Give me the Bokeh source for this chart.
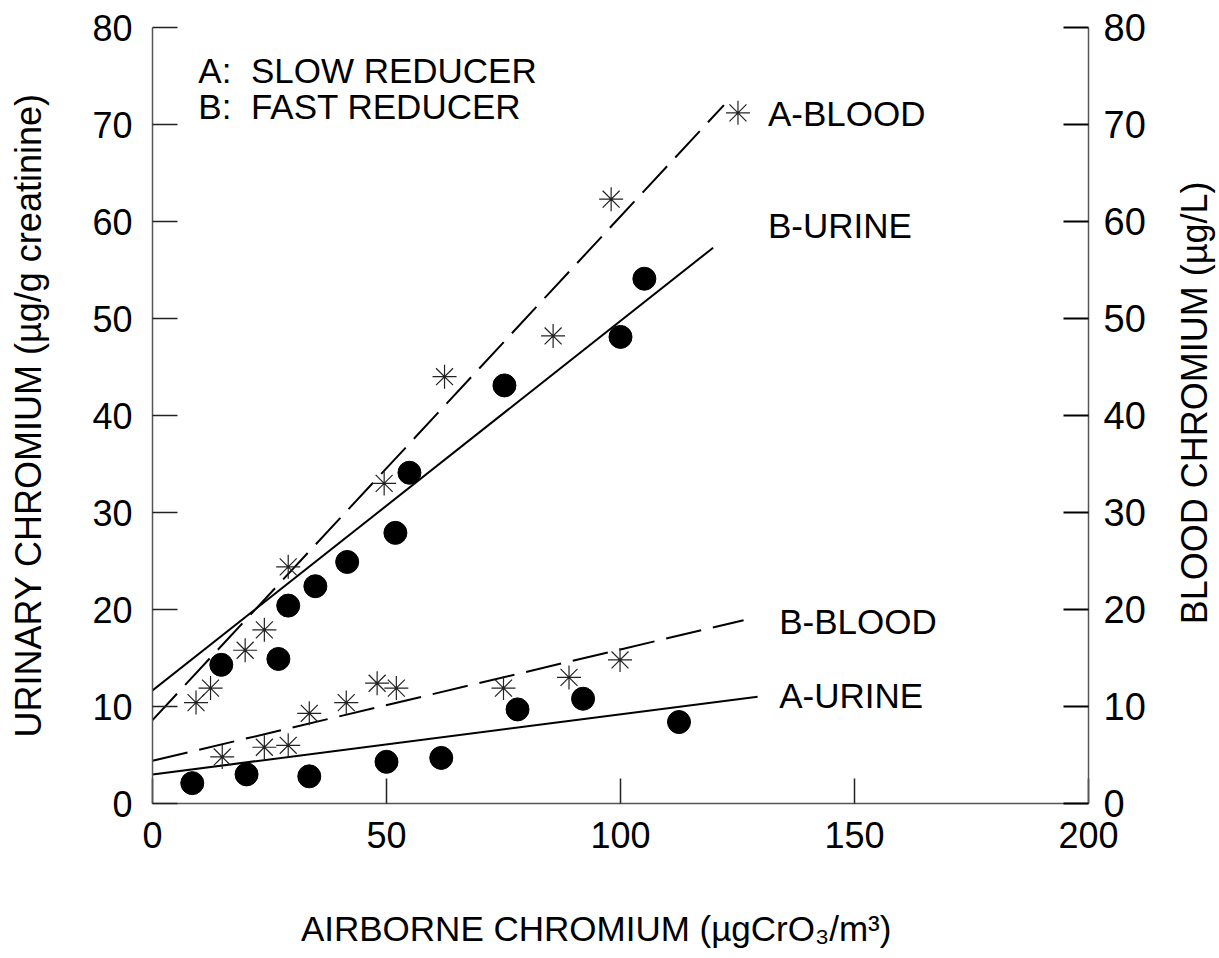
from bokeh.plotting import figure
from bokeh.layouts import row
from bokeh.models import LinearAxis, Range1d, FixedTicker, ColumnDataSource
from bokeh.core.properties import value
from bokeh.embed import file_html
from bokeh.resources import INLINE
import math

# ---- data ----
a_blood_x = [9.3, 12.4, 19.8, 23.9, 29.0, 49.5, 62.4, 85.6, 98.0, 125.1]
a_blood_y = [10.4, 11.9, 15.8, 17.9, 24.4, 33.0, 44.0, 48.2, 62.3, 71.2]

b_blood_x = [14.9, 23.9, 29.0, 33.5, 41.4, 48.0, 52.1, 75.0, 89.0, 99.9]
b_blood_y = [4.8, 5.8, 6.0, 9.3, 10.4, 12.4, 11.9, 11.9, 13.0, 14.8]

b_urine_x = [14.7, 26.9, 29.0, 34.8, 41.6, 51.9, 54.9, 75.2, 100.0, 105.1]
b_urine_y = [14.3, 14.9, 20.4, 22.4, 24.9, 27.9, 34.1, 43.1, 48.1, 54.1]

a_urine_x = [8.5, 20.1, 33.5, 50.0, 61.7, 78.0, 92.0, 112.5]
a_urine_y = [2.1, 3.0, 2.8, 4.3, 4.7, 9.7, 10.8, 8.4]

# regression lines (end points)
a_blood_fit_x = [0.0, 122.1]
a_blood_fit_y = [8.6, 72.0]
b_urine_fit_x = [0.0, 119.8]
b_urine_fit_y = [11.65, 57.3]
b_blood_fit_x = [0.0, 126.3]
b_blood_fit_y = [4.4, 18.9]
a_urine_fit_x = [0.0, 129.3]
a_urine_fit_y = [3.0, 11.0]

x_ticks = [0, 50, 100, 150, 200]
y_ticks = [0, 10, 20, 30, 40, 50, 60, 70, 80]

note_texts = ["A:\u00a0 SLOW REDUCER", "B:\u00a0 FAST REDUCER", "A-BLOOD", "B-URINE", "B-BLOOD", "A-URINE"]
right_title = "BLOOD CHROMIUM (µg/L)"

FONT = "Liberation Sans"

p = figure(width=1175, height=953, x_range=Range1d(0, 200), y_range=Range1d(0, 80),
           output_backend="svg", toolbar_location=None,
           min_border_left=152, min_border_right=87, min_border_top=27, min_border_bottom=150)
p.extra_y_ranges = {"blood": Range1d(0, 80)}
p.outline_line_color = None
p.xgrid.visible = False
p.ygrid.visible = False
p.background_fill_color = "white"
p.border_fill_color = "white"

def style_axis(ax, label, label_size, tick_size, tick_standoff, label_standoff):
    ax.axis_label = label
    ax.axis_label_text_font = FONT
    ax.axis_label_text_font_size = label_size
    ax.axis_label_text_font_style = "normal"
    ax.axis_label_text_color = "black"
    ax.axis_label_standoff = label_standoff
    ax.major_label_text_font = FONT
    ax.major_label_text_font_size = tick_size
    ax.major_label_text_color = "black"
    ax.major_label_standoff = tick_standoff
    ax.major_tick_in = 25
    ax.major_tick_out = 0
    ax.minor_tick_line_color = None
    ax.major_tick_line_color = "#222222"
    ax.major_tick_line_width = 1.5
    ax.axis_line_color = "#555555"
    ax.axis_line_width = 1.5

p.xaxis.ticker = FixedTicker(ticks=x_ticks)
p.yaxis.ticker = FixedTicker(ticks=y_ticks)
style_axis(p.xaxis[0], "AIRBORNE CHROMIUM (µgCrO₃/m³)" + "\u00a0" * 5, "35px", "36px", 18, 58)
style_axis(p.yaxis[0], "URINARY CHROMIUM (µg/g creatinine)", "36px", "36px", 20, 40)

right = LinearAxis(y_range_name="blood", ticker=FixedTicker(ticks=y_ticks))
style_axis(right, None, "36px", "38px", 15, 28)
right.major_tick_line_color = "black"
right.major_tick_line_width = 2
p.add_layout(right, "right")

# regression lines
p.line(a_blood_fit_x, a_blood_fit_y, y_range_name="blood", line_color="black", line_width=2, line_dash="36 12")
p.line(b_blood_fit_x, b_blood_fit_y, y_range_name="blood", line_color="black", line_width=2, line_dash="36 12")
p.line(b_urine_fit_x, b_urine_fit_y, line_color="black", line_width=2)
p.line(a_urine_fit_x, a_urine_fit_y, line_color="black", line_width=2)

# markers
p.scatter(a_blood_x, a_blood_y, y_range_name="blood", marker="asterisk", size=24, angle=math.pi / 2,
          line_color="#222222", line_width=1.2)
p.scatter(b_blood_x, b_blood_y, y_range_name="blood", marker="asterisk", size=24, angle=math.pi / 2,
          line_color="#222222", line_width=1.2)
p.scatter(b_urine_x, b_urine_y, marker="circle", size=23, fill_color="black", line_color="black")
p.scatter(a_urine_x, a_urine_y, marker="circle", size=23, fill_color="black", line_color="black")

# annotations
notes = ColumnDataSource(dict(
    x=[9.8, 9.8, 131.5, 131.5, 133.9, 133.9],
    y=[75.6, 71.9, 71.1, 59.6, 18.8, 11.1],
    t=note_texts,
))
p.text(x="x", y="y", text="t", source=notes, text_font=value(FONT), text_font_size="35px",
       text_baseline="middle", text_align="left", text_color="black")

# narrow side panel carrying the right-hand axis title (reads bottom to top)
side = figure(width=41, height=953, x_range=Range1d(0, 41), y_range=Range1d(0, 80),
              output_backend="svg", toolbar_location=None, x_axis_type=None, y_axis_type=None,
              min_border_left=0, min_border_right=0, min_border_top=27, min_border_bottom=150)
side.outline_line_color = None
side.xgrid.visible = False
side.ygrid.visible = False
side.border_fill_color = "white"
side.text(x=[19], y=[41.3], text=[right_title], angle=math.pi / 2, text_align="center",
          text_baseline="middle", text_font=value(FONT), text_font_size="36px", text_color="black")

layout = row(p, side, spacing=0)
open("out.html", "w").write(file_html(layout, INLINE))
